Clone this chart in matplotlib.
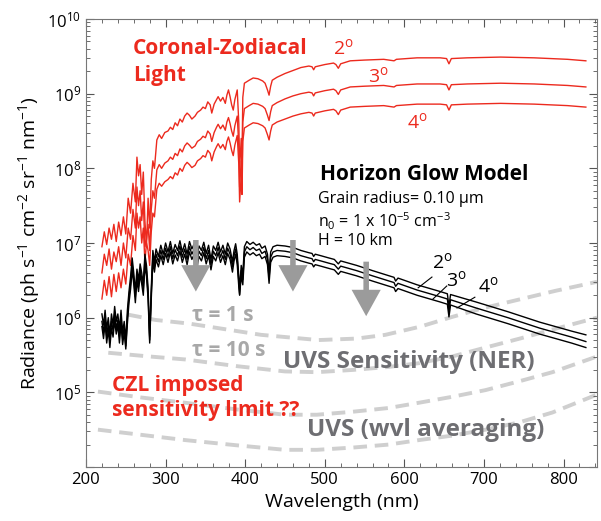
import numpy as np
import matplotlib
matplotlib.use("Agg")
import matplotlib.pyplot as plt
from matplotlib.ticker import LogLocator, NullFormatter, MultipleLocator

plt.rcParams["font.family"] = ["Open Sans", "DejaVu Sans"]
plt.rcParams["mathtext.fontset"] = "custom"
plt.rcParams["mathtext.rm"] = "Open Sans"
plt.rcParams["mathtext.it"] = "Open Sans:italic"
plt.rcParams["mathtext.bf"] = "Open Sans:bold"

# coronal-zodiacal light spectra, log10 radiance
red_wl = [220, 223, 226, 229, 232, 235, 238, 241, 244, 247,
          250, 253, 256, 259, 262, 264, 266, 268, 270, 272,
          274, 276, 278, 280, 282, 284, 286, 289, 292, 295,
          299, 303, 306, 309, 312, 315, 318, 321, 324, 327,
          330, 333, 337, 340, 344, 347, 350, 353, 356, 358,
          361, 364, 366, 369, 372, 375, 377, 379, 381, 383,
          385, 387, 390, 392, 393, 395, 396, 397, 399, 402,
          405, 410, 416, 422, 425, 428, 430, 432, 434, 440,
          450, 460, 470, 480, 484, 486, 488, 500, 511, 514,
          517, 520, 532, 550, 574, 587, 590, 616, 645, 653,
          656, 659, 679, 721, 763, 805, 828]
red_2deg = [6.95, 7.15, 6.98, 7.20, 7.05, 7.25, 7.02, 7.28, 7.10, 7.35,
            7.12, 7.60, 7.40, 7.80, 7.55, 8.15, 7.90, 8.05, 7.65, 7.95,
            7.30, 6.95, 7.60, 7.20, 7.85, 8.10, 8.00, 8.38, 8.45, 8.40,
            8.48, 8.50, 8.55, 8.52, 8.61, 8.57, 8.66, 8.62, 8.70, 8.74,
            8.71, 8.66, 8.70, 8.75, 8.78, 8.82, 8.80, 8.89, 8.85, 8.74,
            8.86, 8.92, 8.96, 8.90, 8.95, 8.87, 8.98, 9.05, 8.96, 8.85,
            8.78, 8.92, 9.05, 8.60, 7.98, 8.40, 8.10, 8.95, 9.14, 9.16,
            9.18, 9.21, 9.20, 9.17, 9.14, 9.05, 8.98, 9.10, 9.18, 9.22,
            9.27, 9.31, 9.35, 9.37, 9.36, 9.32, 9.36, 9.39, 9.41, 9.39,
            9.34, 9.40, 9.44, 9.45, 9.46, 9.44, 9.46, 9.48, 9.48, 9.47,
            9.40, 9.47, 9.48, 9.49, 9.48, 9.46, 9.44]
red_3deg = [6.60, 6.85, 6.70, 6.92, 6.65, 6.88, 6.75, 6.95, 6.70, 7.00,
            6.80, 7.20, 7.05, 7.45, 7.20, 7.75, 7.50, 7.70, 7.30, 7.55,
            6.95, 7.05, 7.25, 6.90, 7.45, 7.70, 7.60, 7.98, 8.05, 8.00,
            8.07, 8.10, 8.15, 8.12, 8.20, 8.17, 8.26, 8.22, 8.30, 8.34,
            8.31, 8.27, 8.30, 8.36, 8.39, 8.43, 8.41, 8.50, 8.46, 8.36,
            8.48, 8.55, 8.59, 8.53, 8.58, 8.51, 8.62, 8.68, 8.60, 8.50,
            8.43, 8.57, 8.70, 8.30, 7.75, 8.10, 7.85, 8.62, 8.80, 8.82,
            8.84, 8.87, 8.86, 8.83, 8.80, 8.71, 8.64, 8.76, 8.84, 8.88,
            8.93, 8.97, 9.00, 9.02, 9.01, 8.97, 9.01, 9.04, 9.06, 9.04,
            8.99, 9.05, 9.09, 9.10, 9.11, 9.09, 9.11, 9.13, 9.13, 9.12,
            9.05, 9.12, 9.13, 9.14, 9.13, 9.11, 9.09]
red_4deg = [6.25, 6.50, 6.30, 6.55, 6.28, 6.58, 6.35, 6.60, 6.40, 6.65,
            6.45, 6.85, 6.70, 7.10, 6.90, 7.40, 7.20, 7.35, 7.00, 7.20,
            6.75, 7.00, 6.90, 6.70, 7.15, 7.40, 7.35, 7.72, 7.80, 7.76,
            7.82, 7.85, 7.89, 7.86, 7.94, 7.91, 8.00, 7.96, 8.04, 8.08,
            8.05, 8.01, 8.04, 8.10, 8.13, 8.17, 8.15, 8.24, 8.20, 8.10,
            8.22, 8.29, 8.33, 8.27, 8.32, 8.25, 8.36, 8.42, 8.34, 8.24,
            8.17, 8.31, 8.44, 8.05, 7.55, 7.90, 7.65, 8.36, 8.54, 8.56,
            8.58, 8.61, 8.60, 8.57, 8.54, 8.45, 8.38, 8.50, 8.58, 8.62,
            8.66, 8.70, 8.73, 8.75, 8.74, 8.70, 8.74, 8.77, 8.79, 8.77,
            8.72, 8.78, 8.82, 8.83, 8.84, 8.82, 8.84, 8.86, 8.86, 8.85,
            8.78, 8.85, 8.86, 8.87, 8.86, 8.84, 8.82]

# horizon glow model spectra, log10 radiance
hg_wl = [220, 222, 224, 226, 228, 230, 232, 234, 236, 238,
         240, 242, 244, 246, 248, 250, 252, 254, 256, 258,
         260, 262, 264, 266, 268, 270, 272, 274, 276, 278,
         280, 282, 284, 286, 288, 291, 294, 297, 300, 303,
         306, 309, 312, 315, 318, 321, 324, 327, 330, 333,
         336, 339, 342, 345, 348, 351, 354, 357, 360, 363,
         366, 369, 372, 375, 378, 381, 384, 386, 388, 390,
         392, 393, 395, 397, 399, 402, 406, 410, 414, 418,
         421, 425, 428, 430, 432, 435, 440, 450, 460, 470,
         480, 484, 486, 488, 495, 505, 512, 517, 520, 530,
         540, 560, 587, 589, 592, 616, 645, 654, 656, 658,
         690, 730, 770, 810, 828]
hg_2deg = [6.05, 5.90, 6.10, 5.85, 6.00, 5.77, 6.05, 5.90, 6.15, 5.95,
           6.05, 5.85, 6.10, 5.80, 5.95, 5.70, 6.10, 6.35, 6.55, 6.80,
           6.60, 6.35, 6.65, 6.50, 6.72, 6.60, 6.45, 6.85, 6.70, 6.40,
           5.75, 6.40, 6.90, 6.75, 6.92, 6.82, 6.97, 6.85, 7.00, 6.88,
           7.02, 6.86, 6.98, 6.90, 7.03, 6.88, 6.99, 6.85, 7.02, 6.92,
           6.99, 6.80, 6.96, 6.90, 7.01, 6.86, 6.97, 6.78, 6.96, 6.90,
           7.01, 6.88, 6.97, 6.85, 7.00, 6.92, 6.75, 6.90, 6.99, 6.85,
           6.55, 6.38, 6.70, 6.58, 6.95, 7.02, 6.98, 7.01, 6.97, 6.99,
           6.93, 6.96, 6.85, 6.60, 6.88, 6.95, 6.97, 6.96, 6.94, 6.90,
           6.87, 6.86, 6.82, 6.85, 6.83, 6.80, 6.78, 6.72, 6.76, 6.73,
           6.70, 6.63, 6.54, 6.49, 6.53, 6.44, 6.35, 6.32, 6.15, 6.31,
           6.21, 6.08, 5.94, 5.82, 5.77]
hg_3deg = [5.95, 5.80, 6.00, 5.75, 5.92, 5.68, 5.95, 5.82, 6.05, 5.85,
           5.97, 5.75, 6.00, 5.72, 5.88, 5.62, 6.00, 6.28, 6.45, 6.72,
           6.52, 6.28, 6.58, 6.42, 6.65, 6.52, 6.38, 6.78, 6.62, 6.32,
           5.70, 6.32, 6.83, 6.68, 6.85, 6.75, 6.90, 6.78, 6.93, 6.81,
           6.95, 6.79, 6.91, 6.83, 6.96, 6.81, 6.92, 6.78, 6.95, 6.85,
           6.92, 6.73, 6.89, 6.83, 6.94, 6.79, 6.90, 6.71, 6.89, 6.83,
           6.94, 6.81, 6.90, 6.78, 6.93, 6.85, 6.68, 6.83, 6.92, 6.78,
           6.48, 6.31, 6.63, 6.51, 6.88, 6.95, 6.91, 6.94, 6.90, 6.92,
           6.86, 6.89, 6.78, 6.53, 6.81, 6.88, 6.90, 6.89, 6.87, 6.83,
           6.80, 6.79, 6.75, 6.78, 6.76, 6.73, 6.71, 6.65, 6.69, 6.66,
           6.63, 6.56, 6.47, 6.42, 6.46, 6.37, 6.28, 6.25, 6.08, 6.24,
           6.13, 6.00, 5.86, 5.74, 5.68]
hg_4deg = [5.88, 5.72, 5.92, 5.66, 5.84, 5.60, 5.86, 5.74, 5.96, 5.78,
           5.90, 5.66, 5.92, 5.64, 5.80, 5.58, 5.92, 6.20, 6.38, 6.64,
           6.45, 6.20, 6.50, 6.35, 6.58, 6.45, 6.30, 6.70, 6.55, 6.25,
           5.66, 6.25, 6.76, 6.61, 6.78, 6.68, 6.83, 6.71, 6.86, 6.74,
           6.88, 6.72, 6.84, 6.76, 6.89, 6.74, 6.85, 6.71, 6.88, 6.78,
           6.85, 6.66, 6.82, 6.76, 6.87, 6.72, 6.83, 6.64, 6.82, 6.76,
           6.87, 6.74, 6.83, 6.71, 6.86, 6.78, 6.61, 6.76, 6.85, 6.71,
           6.41, 6.30, 6.56, 6.44, 6.81, 6.88, 6.84, 6.87, 6.83, 6.85,
           6.79, 6.82, 6.71, 6.46, 6.74, 6.81, 6.83, 6.82, 6.80, 6.76,
           6.73, 6.72, 6.68, 6.71, 6.69, 6.66, 6.64, 6.58, 6.62, 6.59,
           6.56, 6.49, 6.40, 6.35, 6.39, 6.30, 6.21, 6.18, 6.01, 6.17,
           6.05, 5.92, 5.78, 5.66, 5.60]

# UVS sensitivity curves (log10)
tau1_wl = [253, 287, 330, 366, 420, 492, 540, 576, 620, 660, 700, 743, 790, 842]
tau1 = [6.04, 5.97, 5.92, 5.86, 5.77, 5.70, 5.72, 5.77, 5.88, 6.01, 6.13, 6.24, 6.36, 6.48]
tau10_wl = [228, 280, 325, 390, 450, 490, 535, 580, 618, 660, 702, 745, 786, 842]
tau10 = [5.53, 5.48, 5.44, 5.35, 5.28, 5.27, 5.30, 5.34, 5.39, 5.48, 5.60, 5.72, 5.84, 6.00]
avg1_wl = [215, 270, 325, 390, 450, 490, 535, 580, 618, 660, 702, 745, 786, 842]
avg1 = [5.01, 4.93, 4.86, 4.77, 4.70, 4.70, 4.74, 4.79, 4.86, 4.94, 5.03, 5.15, 5.27, 5.48]
avg10_wl = [215, 270, 325, 390, 450, 490, 535, 580, 618, 660, 702, 745, 786, 842]
avg10 = [4.50, 4.43, 4.36, 4.29, 4.23, 4.23, 4.26, 4.30, 4.36, 4.42, 4.50, 4.60, 4.73, 4.97]

# down arrows: wavelength, log10 top, log10 tip
arrow_wl = [338, 460, 552]
arrow_top = [7.04, 7.04, 6.75]
arrow_tip = [6.35, 6.35, 6.02]

RED = "#ec2a1e"
fig = plt.figure(figsize=(6.01, 5.21), dpi=100)
ax = fig.add_axes([86 / 601, 54 / 521, 511 / 601, 448 / 521])

dash_kw = dict(color="#cfcfcf", lw=2.8, ls=(0, (3.5, 2.0)), zorder=1)
for wl, v in [(tau1_wl, tau1), (tau10_wl, tau10), (avg1_wl, avg1), (avg10_wl, avg10)]:
    ax.plot(wl, 10 ** np.array(v), **dash_kw)

for v in [red_2deg, red_3deg, red_4deg]:
    ax.plot(red_wl, 10 ** np.array(v), color=RED, lw=1.0, zorder=2)
for v in [hg_2deg, hg_3deg, hg_4deg]:
    ax.plot(hg_wl, 10 ** np.array(v), color="black", lw=1.0, zorder=3)

for x, t, b in zip(arrow_wl, arrow_top, arrow_tip):
    ax.annotate("", xy=(x, 10 ** b), xytext=(x, 10 ** t),
                arrowprops=dict(arrowstyle="simple,head_length=0.95,head_width=1.05,tail_width=0.2",
                                mutation_scale=20, color="#9b9b9b", lw=0,
                                shrinkA=0, shrinkB=0), zorder=5)

ax.set_yscale("log")
ax.set_xlim(200, 842)
ax.set_ylim(1e4, 1e10)
ax.set_yticks([10.0 ** k for k in range(4, 11)])
ax.set_yticklabels([""] + [r"10$^{%d}$" % k for k in range(5, 11)])
ax.yaxis.set_minor_locator(LogLocator(base=10, subs=np.arange(2, 10)))
ax.yaxis.set_minor_formatter(NullFormatter())
ax.xaxis.set_major_locator(MultipleLocator(100))
ax.xaxis.set_minor_locator(MultipleLocator(20))
ax.tick_params(which="both", direction="in", top=True, right=True, colors="#555555",
               labelcolor="black", labelsize=12)
ax.tick_params(which="major", length=6)
ax.tick_params(which="minor", length=3)
for s in ax.spines.values():
    s.set_color("#777777")

ax.set_xlabel("Wavelength (nm)", fontsize=14, labelpad=4)
ax.set_ylabel(r"Radiance (ph s$^{-1}$ cm$^{-2}$ sr$^{-1}$ nm$^{-1}$)", fontsize=14, labelpad=4)

tA = ax.transAxes
ax.text(0.092, 0.935, "Coronal-Zodiacal", color=RED, fontsize=15, fontweight="bold",
        ha="left", va="center", transform=tA)
ax.text(0.092, 0.873, "Light", color=RED, fontsize=15, fontweight="bold",
        ha="left", va="center", transform=tA)
for lab, x, y in [("2", 0.503, 0.935), ("3", 0.573, 0.873), ("4", 0.648, 0.770)]:
    ax.text(x, y, lab + r"$^{\rm o}$", color=RED, fontsize=14, ha="center", va="center", transform=tA)

ax.text(0.458, 0.654, "Horizon Glow Model", fontsize=15, fontweight="bold",
        ha="left", va="center", transform=tA)
ax.text(0.454, 0.598, "Grain radius= 0.10 \u03bcm", fontsize=11.5, ha="left", va="center", transform=tA)
ax.text(0.454, 0.549, r"n$_0$ = 1 x 10$^{-5}$ cm$^{-3}$", fontsize=11.5, ha="left", va="center", transform=tA)
ax.text(0.454, 0.504, "H = 10 km", fontsize=11.5, ha="left", va="center", transform=tA)

for lab, x, y, (x0, y0, x1, y1) in [
        ("2", 0.697, 0.457, (0.677, 0.424, 0.650, 0.400)),
        ("3", 0.724, 0.417, (0.706, 0.404, 0.679, 0.375)),
        ("4", 0.787, 0.404, (0.761, 0.379, 0.726, 0.355))]:
    ax.text(x, y, lab + r"$^{\rm o}$", fontsize=14, ha="center", va="center", transform=tA, zorder=6)
    ax.plot([x0, x1], [y0, y1], color="black", lw=0.8, transform=tA, zorder=6)

grey_light = "#a8a8a8"
grey_dark = "#6e6e72"
ax.text(0.207, 0.339, "\u03c4 = 1 s", color=grey_light, fontsize=15, fontweight="bold",
        ha="left", va="center", transform=tA)
ax.text(0.207, 0.261, "\u03c4 = 10 s", color=grey_light, fontsize=15, fontweight="bold",
        ha="left", va="center", transform=tA)
ax.text(0.386, 0.234, "UVS Sensitivity (NER)", color=grey_dark, fontsize=17.5, fontweight="bold",
        ha="left", va="center", transform=tA)
ax.text(0.432, 0.083, "UVS (wvl averaging)", color=grey_dark, fontsize=17.5, fontweight="bold",
        ha="left", va="center", transform=tA)
ax.text(0.051, 0.183, "CZL imposed", color=RED, fontsize=15, fontweight="bold",
        ha="left", va="center", transform=tA)
ax.text(0.051, 0.127, "sensitivity limit ??", color=RED, fontsize=15, fontweight="bold",
        ha="left", va="center", transform=tA)

fig.savefig("out.png", dpi=100)
